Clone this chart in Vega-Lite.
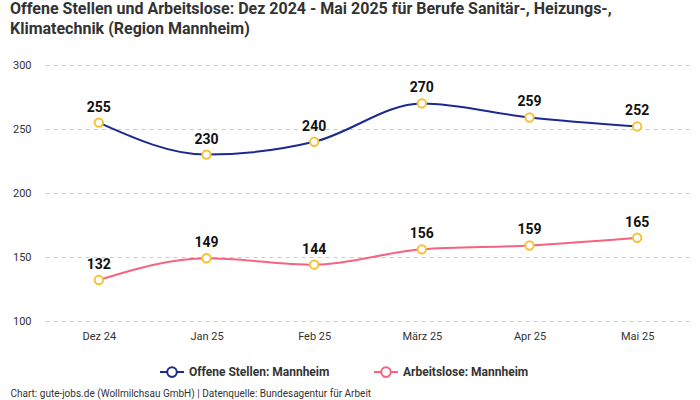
{
  "$schema": "https://vega.github.io/schema/vega-lite/v6.json",
  "autosize": {"type": "none"},
  "width": 646,
  "height": 256,
  "padding": {"left": 45, "top": 65, "right": 9, "bottom": 79},
  "background": "white",
  "title": {
    "text": ["Offene Stellen und Arbeitslose: Dez 2024 - Mai 2025 für Berufe Sanitär-, Heizungs-,", "Klimatechnik (Region Mannheim)"],
    "anchor": "start",
    "frame": "group",
    "font": "Roboto",
    "fontSize": 16,
    "fontWeight": "bold",
    "color": "#333333",
    "lineHeight": 20,
    "offset": 22,
    "dx": -35
  },
  "config": {
    "view": {"stroke": null},
    "font": "Roboto",
    "axis": {"labelFont": "Roboto", "titleFont": "Roboto"}
  },
  "data": {
    "values": [
      {"month": "Dez 24", "series": "Offene Stellen: Mannheim", "value": 255},
      {"month": "Jan 25", "series": "Offene Stellen: Mannheim", "value": 230},
      {"month": "Feb 25", "series": "Offene Stellen: Mannheim", "value": 240},
      {"month": "März 25", "series": "Offene Stellen: Mannheim", "value": 270},
      {"month": "Apr 25", "series": "Offene Stellen: Mannheim", "value": 259},
      {"month": "Mai 25", "series": "Offene Stellen: Mannheim", "value": 252},
      {"month": "Dez 24", "series": "Arbeitslose: Mannheim", "value": 132},
      {"month": "Jan 25", "series": "Arbeitslose: Mannheim", "value": 149},
      {"month": "Feb 25", "series": "Arbeitslose: Mannheim", "value": 144},
      {"month": "März 25", "series": "Arbeitslose: Mannheim", "value": 156},
      {"month": "Apr 25", "series": "Arbeitslose: Mannheim", "value": 159},
      {"month": "Mai 25", "series": "Arbeitslose: Mannheim", "value": 165}
    ]
  },
  "encoding": {
    "x": {
      "field": "month",
      "type": "ordinal",
      "sort": null,
      "scale": {"type": "point", "padding": 0.5},
      "axis": {
        "title": "Chart: gute-jobs.de (Wollmilchsau GmbH) | Datenquelle: Bundesagentur für Arbeit",
        "titleAnchor": "start",
        "titleAlign": "left",
        "titleBaseline": "middle",
        "titleX": -35,
        "titleY": 72,
        "titleFontSize": 10,
        "titleFontWeight": "normal",
        "titleColor": "#333333",
        "labelAngle": 0,
        "labelFontSize": 11,
        "labelColor": "#333333",
        "labelPadding": 9,
        "ticks": false,
        "domain": false,
        "grid": false
      }
    },
    "y": {
      "field": "value",
      "type": "quantitative",
      "scale": {"domain": [100, 300], "nice": false},
      "axis": {
        "title": null,
        "values": [100, 150, 200, 250, 300],
        "labelFontSize": 11,
        "labelColor": "#333333",
        "labelPadding": 14,
        "ticks": false,
        "domain": false,
        "grid": true,
        "gridDash": [4, 4],
        "gridColor": "#cccccc",
        "gridWidth": 1
      }
    },
    "color": {
      "field": "series",
      "type": "nominal",
      "scale": {
        "domain": ["Offene Stellen: Mannheim", "Arbeitslose: Mannheim"],
        "range": ["#1b2a8f", "#f7637e"]
      },
      "legend": {
        "title": null,
        "orient": "none",
        "legendX": 118,
        "legendY": 298,
        "direction": "horizontal",
        "labelFontSize": 12,
        "labelFontWeight": "bold",
        "labelColor": "#333333",
        "symbolType": "M-1.5,0H-0.6M0.6,0H1.5M-0.6,0A0.6,0.6 0 1,0 0.6,0A0.6,0.6 0 1,0 -0.6,0",
        "symbolSize": 256,
        "symbolStrokeWidth": 2,
        "symbolFillColor": "white",
        "columnPadding": 40,
        "labelOffset": 8
      }
    }
  },
  "layer": [
    {
      "mark": {"type": "line", "interpolate": "monotone", "strokeWidth": 2}
    },
    {
      "mark": {"type": "point", "filled": true, "fill": "white", "stroke": "#f5c232", "strokeWidth": 2, "size": 70, "opacity": 1},
      "encoding": {"color": {"value": "#f5c232"}}
    },
    {
      "mark": {"type": "text", "dy": -15, "fontSize": 14, "fontWeight": "bold", "color": "#111111"},
      "encoding": {"text": {"field": "value", "type": "quantitative"}, "color": {"value": "#111111"}}
    }
  ]
}
